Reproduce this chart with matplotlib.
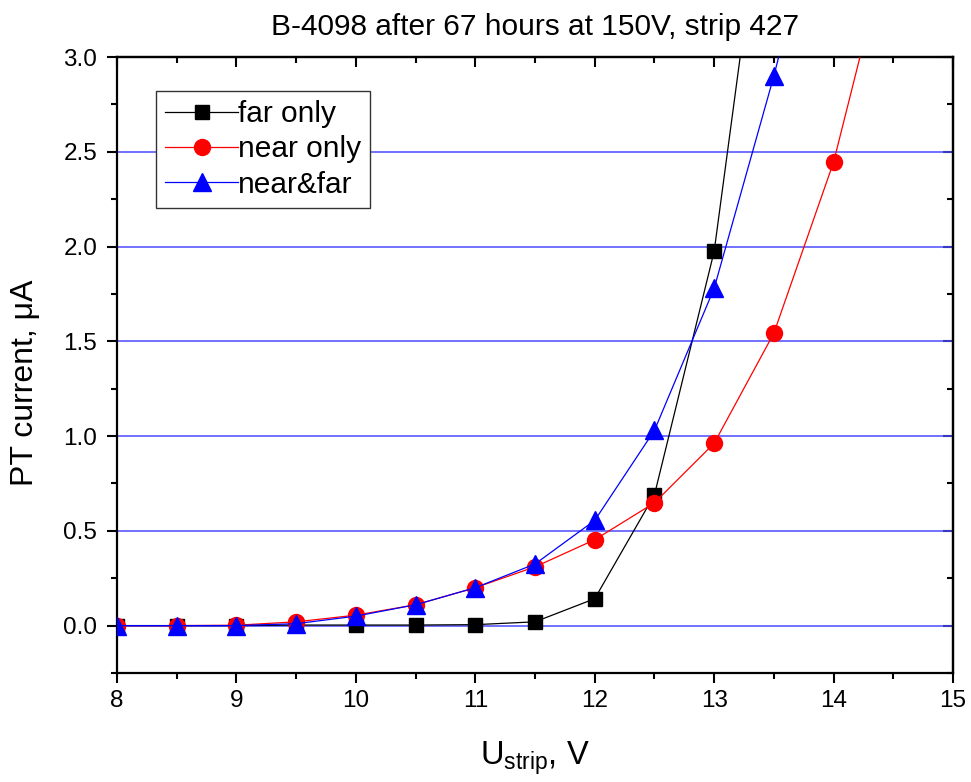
import matplotlib
matplotlib.use("Agg")
import matplotlib.pyplot as plt
from matplotlib.ticker import MultipleLocator

plt.rcParams['font.family'] = ['Liberation Sans', 'DejaVu Sans']
plt.rcParams['mathtext.fontset'] = 'custom'
plt.rcParams['mathtext.rm'] = 'Liberation Sans'

x_far = [8, 8.5, 9, 9.5, 10, 10.5, 11, 11.5, 12, 12.5, 13, 13.5]
y_far = [0.0, 0.0, 0.0, 0.003, 0.003, 0.003, 0.005, 0.02, 0.142, 0.69, 1.975, 4.33]
x_near = [8, 8.5, 9, 9.5, 10, 10.5, 11, 11.5, 12, 12.5, 13, 13.5, 14, 14.5]
y_near = [0.0, 0.0, 0.002, 0.02, 0.055, 0.11, 0.2, 0.31, 0.453, 0.648, 0.962, 1.543, 2.446, 3.7]
x_both = [8, 8.5, 9, 9.5, 10, 10.5, 11, 11.5, 12, 12.5, 13, 13.5, 14]
y_both = [0.0, 0.0, 0.0, 0.01, 0.05, 0.11, 0.2, 0.325, 0.555, 1.03, 1.78, 2.9, 4.15]

x_ticks = [8, 9, 10, 11, 12, 13, 14, 15]
x_tick_labels = ['8', '9', '10', '11', '12', '13', '14', '15']
y_ticks = [0.0, 0.5, 1.0, 1.5, 2.0, 2.5, 3.0]
y_tick_labels = ['0.0', '0.5', '1.0', '1.5', '2.0', '2.5', '3.0']

fig = plt.figure(figsize=(9.71, 7.82), dpi=100)
ax = fig.add_axes([0.1205, 0.1394, 0.8610, 0.7877])

for yv in y_ticks[:-1]:
    ax.axhline(yv, color='#4a4aff', lw=1.1, zorder=1)

ax.plot(x_far, y_far, '-s', color='black', lw=0.9, ms=10, label='far only', zorder=3)
ax.plot(x_near, y_near, '-o', color='red', lw=0.9, ms=11.5, label='near only', zorder=3)
ax.plot(x_both, y_both, '-^', color='blue', lw=0.9, ms=12.5, label='near&far', zorder=4)

ax.set_xlim(8, 15)
ax.set_ylim(-0.25, 3.0)
ax.set_xticks(x_ticks, x_tick_labels, fontsize=17.5)
ax.set_yticks(y_ticks, y_tick_labels, fontsize=17.5)
ax.xaxis.set_minor_locator(MultipleLocator(0.5))
ax.yaxis.set_minor_locator(MultipleLocator(0.25))

ax.tick_params(which='both', direction='out', width=1.5)
ax.tick_params(axis='x', which='major', pad=5)
ax.tick_params(axis='y', which='major', pad=6.8)
ax.tick_params(which='major', length=7.5)
ax.tick_params(which='minor', length=4.5)
for spine in ax.spines.values():
    spine.set_linewidth(1.6)

# top and right ticks pointing inward
secx = ax.secondary_xaxis('top')
secx.set_xticks(x_ticks)
secx.xaxis.set_minor_locator(MultipleLocator(0.5))
secx.tick_params(which='both', direction='in', width=1.5, labeltop=False)
secx.tick_params(which='major', length=7.5)
secx.tick_params(which='minor', length=4.5)
secx.spines['top'].set_linewidth(1.6)
secy = ax.secondary_yaxis('right')
secy.set_yticks(y_ticks)
secy.yaxis.set_minor_locator(MultipleLocator(0.25))
secy.tick_params(which='both', direction='in', width=1.5, labelright=False)
secy.tick_params(which='major', length=7.5)
secy.tick_params(which='minor', length=4.5)
secy.spines['right'].set_linewidth(1.6)

ax.set_title('B-4098 after 67 hours at 150V, strip 427', fontsize=21.5, pad=16)
ax.set_xlabel(r'U$_{\mathregular{strip}}$, V', fontsize=23.5)
ax.xaxis.set_label_coords(0.5, -0.108)
ax.set_ylabel('PT current, μA', fontsize=23)
ax.yaxis.set_label_coords(-0.110, 0.471)
ax.yaxis.label.set_va('center')

leg = ax.legend(loc='upper left', bbox_to_anchor=(156 / 971, 1 - 91 / 782),
                bbox_transform=fig.transFigure, fontsize=21.5,
                frameon=True, fancybox=False, edgecolor='#333333', handlelength=2.45,
                handletextpad=0.0, borderpad=0.3, labelspacing=0.25, borderaxespad=0,
                framealpha=1)
leg.get_frame().set_linewidth(1.0)

fig.savefig('out.png', dpi=100)
